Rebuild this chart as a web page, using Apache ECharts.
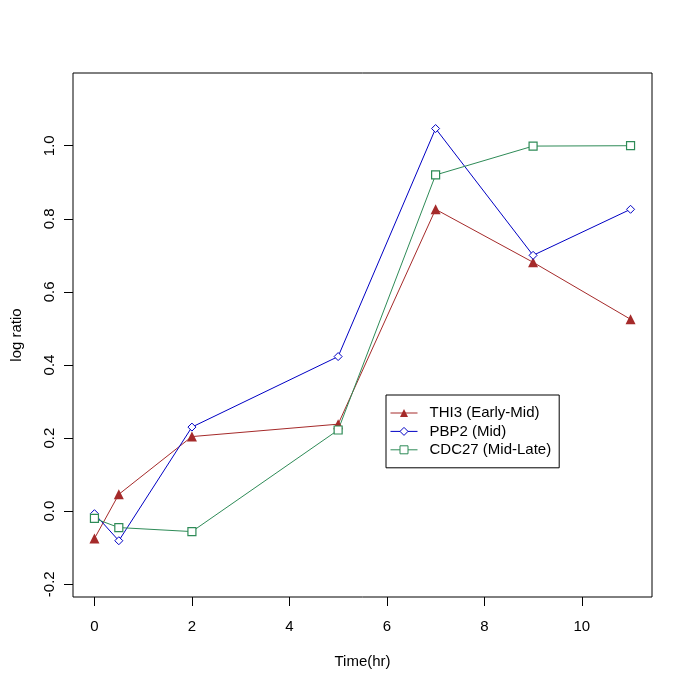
<!DOCTYPE html>
<html>
<head>
<meta charset="utf-8">
<script src="https://cdn.jsdelivr.net/npm/echarts@6/dist/echarts.min.js"></script>
<style>html,body{margin:0;padding:0;background:#fff}#c{width:689px;height:689px}</style>
</head>
<body>
<div id="c"></div>
<script>
const times = [0, 0.5, 2, 5, 7, 9, 11];
const thi3 = [-0.075, 0.046, 0.204, 0.238, 0.826, 0.681, 0.525];
const pbp2 = [-0.007, -0.081, 0.230, 0.423, 1.047, 0.700, 0.826];
const cdc27 = [-0.020, -0.045, -0.056, 0.222, 0.920, 0.999, 1.000];
const seriesNames = ['THI3 (Early-Mid)', 'PBP2 (Mid)', 'CDC27 (Mid-Late)'];
const xTicks = [0, 2, 4, 6, 8, 10];
const yTicks = [-0.2, 0.0, 0.2, 0.4, 0.6, 0.8, 1.0];

const FONT = '"Liberation Sans", Arial, sans-serif';
const pairs = v => times.map((t, i) => [t, v[i]]);

const chart = echarts.init(document.getElementById('c'), null, {renderer: 'canvas'});
chart.setOption({
  backgroundColor: '#fff',
  animation: false,
  textStyle: {fontFamily: FONT},
  grid: {left: 73, top: 73, width: 579, height: 524, show: true, borderColor: '#000', borderWidth: 1, backgroundColor: 'transparent', containLabel: false},
  xAxis: {
    type: 'value', min: -0.44, max: 11.44,
    name: 'Time(hr)', nameLocation: 'middle', nameGap: 57,
    nameTextStyle: {fontSize: 15, color: '#000', fontFamily: FONT},
    axisLine: {show: false, onZero: false},
    splitLine: {show: false},
    axisTick: {show: true, inside: false, length: 9, lineStyle: {color: '#000'}, customValues: xTicks},
    axisLabel: {fontSize: 15, color: '#000', margin: 22, fontFamily: FONT, customValues: xTicks,
      formatter: v => String(v)}
  },
  yAxis: {
    type: 'value', min: -0.235, max: 1.199,
    name: 'log ratio', nameLocation: 'middle', nameGap: 49,
    nameTextStyle: {fontSize: 15, color: '#000', fontFamily: FONT},
    axisLine: {show: false, onZero: false},
    splitLine: {show: false},
    axisTick: {show: true, inside: false, length: 9, lineStyle: {color: '#000'}, customValues: yTicks},
    axisLabel: {fontSize: 15, color: '#000', margin: 16, rotate: 90, fontFamily: FONT, customValues: yTicks,
      formatter: v => v.toFixed(1)}
  },
  legend: {
    orient: 'vertical', left: 386, top: 395,
    data: seriesNames,
    borderColor: '#000', borderWidth: 1, borderRadius: 0,
    padding: [9, 8, 9, 4],
    itemWidth: 27, itemHeight: 10, itemGap: 0.4,
    lineStyle: {width: 1},
    itemStyle: {borderWidth: 1},
    textStyle: {fontSize: 15, lineHeight: 18, color: '#000', fontFamily: FONT, padding: [0, 0, 0, 7]},
    backgroundColor: '#fff'
  },
  series: [
    {name: seriesNames[0], type: 'line', data: pairs(thi3),
     symbol: 'triangle', symbolSize: 10,
     lineStyle: {color: '#A52A2A', width: 1}, itemStyle: {color: '#A52A2A', borderWidth: 0}},
    {name: seriesNames[1], type: 'line', data: pairs(pbp2),
     symbol: 'diamond', symbolSize: 8,
     lineStyle: {color: '#0000C4', width: 1}, itemStyle: {color: '#fff', borderColor: '#0000C4', borderWidth: 1}},
    {name: seriesNames[2], type: 'line', data: pairs(cdc27),
     symbol: 'rect', symbolSize: 8,
     lineStyle: {color: '#2E8B57', width: 1}, itemStyle: {color: '#fff', borderColor: '#2E8B57', borderWidth: 1.2}}
  ]
});
</script>
</body>
</html>
